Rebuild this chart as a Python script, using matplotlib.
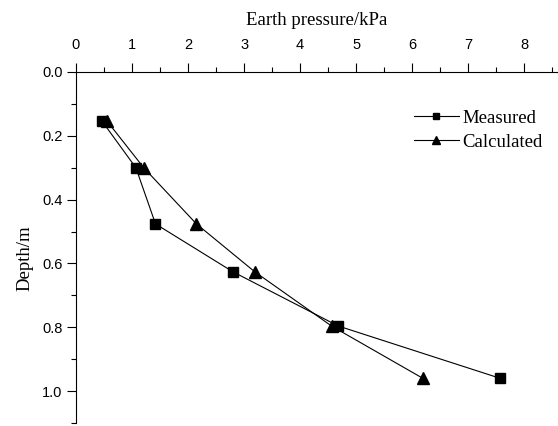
import matplotlib.pyplot as plt
from matplotlib.ticker import MultipleLocator

depth = [0.155, 0.30, 0.476, 0.626, 0.796, 0.96]
measured = [0.47, 1.07, 1.42, 2.80, 4.68, 7.57]
calculated = [0.56, 1.21, 2.15, 3.19, 4.56, 6.19]

x_ticks = [0, 1, 2, 3, 4, 5, 6, 7, 8]
y_ticks = [0.0, 0.2, 0.4, 0.6, 0.8, 1.0]

fig = plt.figure(figsize=(5.58, 4.26), dpi=100)
ax = fig.add_axes([0.136, 0.007, 0.864, 0.824])

ax.plot(measured, depth, color="black", lw=0.8, marker="s", ms=6.5,
        label="Measured")
ax.plot(calculated, depth, color="black", lw=0.8, marker="^", ms=8,
        label="Calculated")

ax.set_xlim(0, 8.6)
ax.set_ylim(1.1, 0)

ax.spines["right"].set_visible(False)
ax.spines["bottom"].set_visible(False)
ax.xaxis.tick_top()
ax.xaxis.set_label_position("top")

ax.set_xticks(x_ticks)
ax.set_yticks(y_ticks)
ax.set_yticklabels([f"{v:.1f}" for v in y_ticks])
ax.xaxis.set_minor_locator(MultipleLocator(0.5))
ax.yaxis.set_minor_locator(MultipleLocator(0.1))
ax.tick_params(which="major", direction="out", length=6.5, width=0.8,
               labelsize=10.5, pad=3)
ax.tick_params(axis="x", which="major", pad=8)
ax.tick_params(which="minor", direction="out", length=3.5, width=0.8)
for lbl in ax.get_xticklabels() + ax.get_yticklabels():
    lbl.set_family("Liberation Sans")

ax.set_xlabel("Earth pressure/kPa", family="Liberation Serif", fontsize=13.5,
              labelpad=9)
ax.set_ylabel("Depth/m", family="Liberation Serif", fontsize=13.5)
ax.yaxis.set_label_coords(-0.088, 0.47)

ax.legend(loc="upper right", bbox_to_anchor=(1.003, 0.94), frameon=False,
          prop={"family": "Liberation Serif", "size": 13.5}, handlelength=2.4,
          handletextpad=0.2, labelspacing=0.36, markerscale=0.7)

fig.savefig("out.png", dpi=100)
